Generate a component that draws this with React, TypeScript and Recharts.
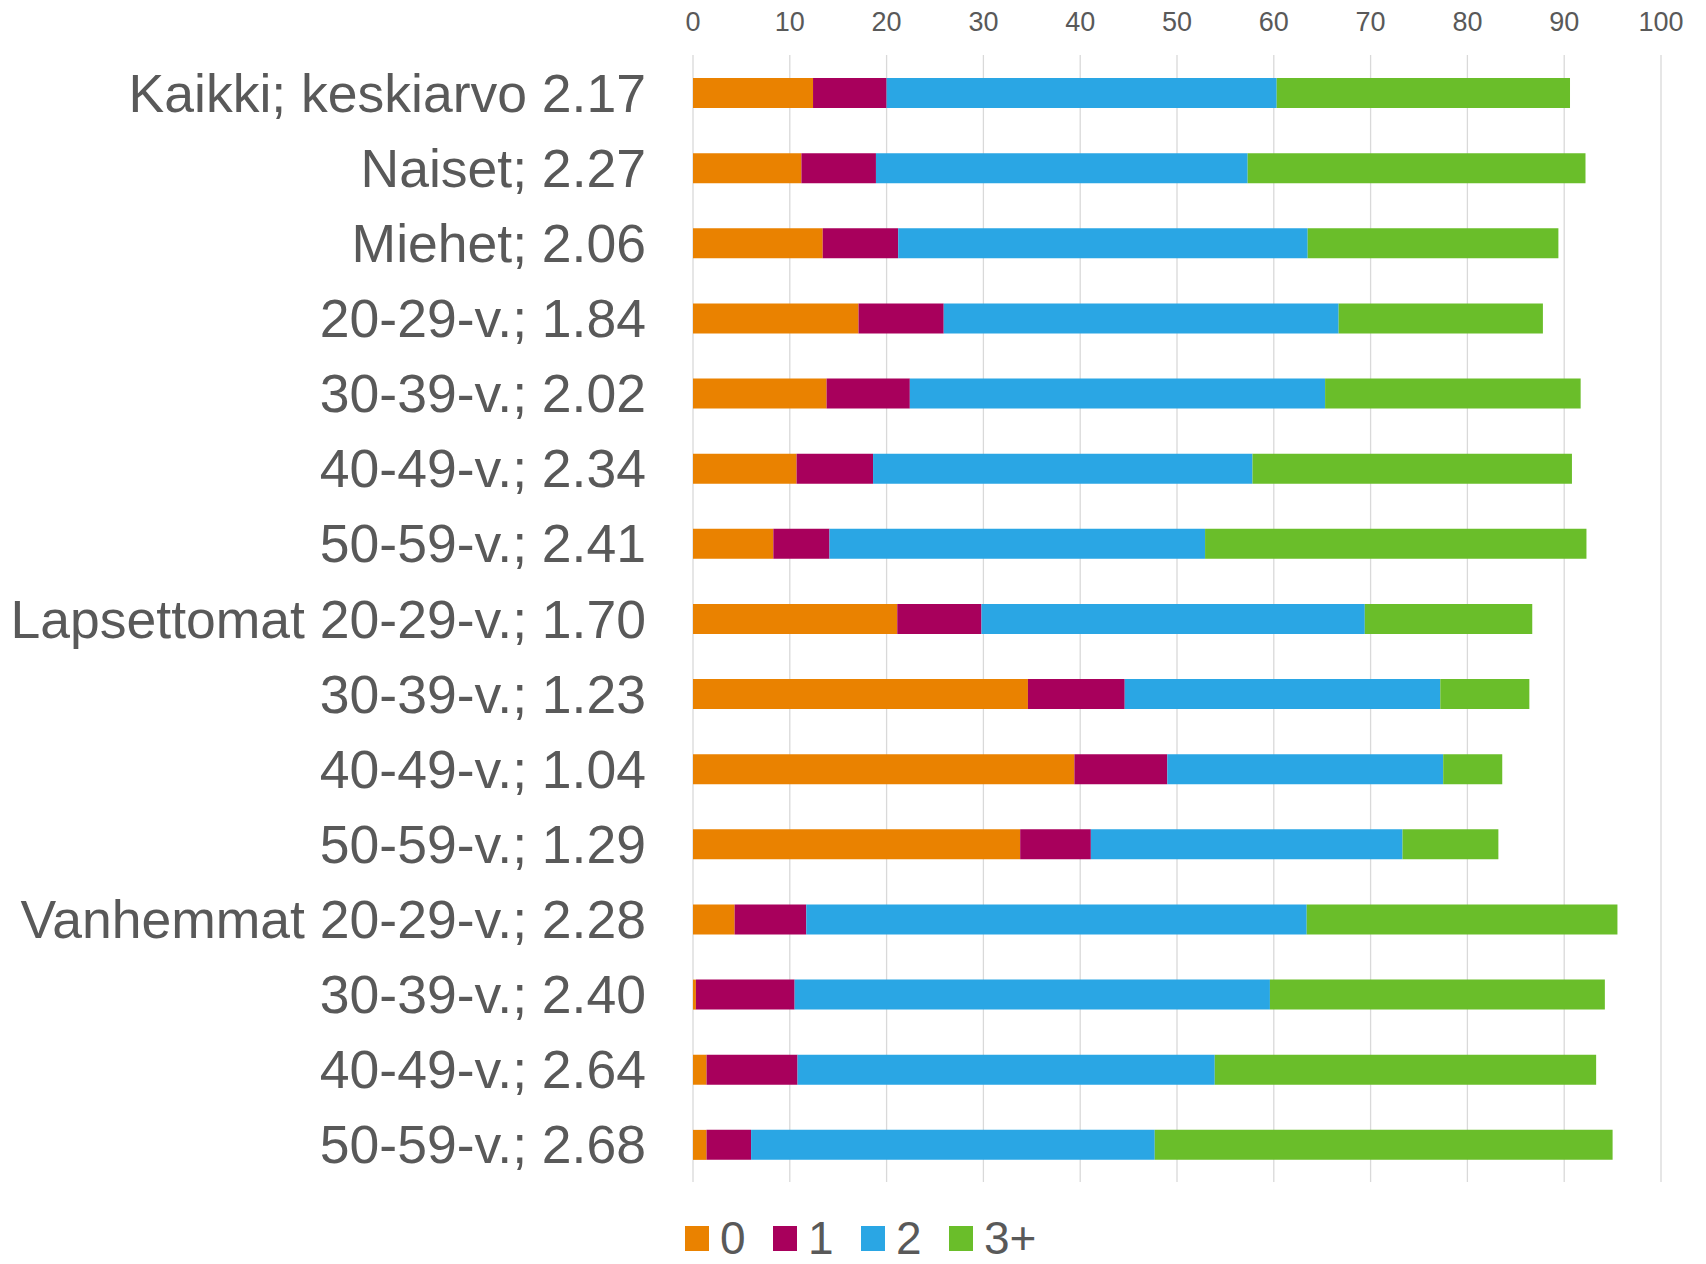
import React from 'react';
import { BarChart, Bar, XAxis, YAxis, CartesianGrid, Legend } from 'recharts';

const categories = [
  'Kaikki; keskiarvo 2.17',
  'Naiset; 2.27',
  'Miehet; 2.06',
  '20-29-v.; 1.84',
  '30-39-v.; 2.02',
  '40-49-v.; 2.34',
  '50-59-v.; 2.41',
  'Lapsettomat 20-29-v.; 1.70',
  '30-39-v.; 1.23',
  '40-49-v.; 1.04',
  '50-59-v.; 1.29',
  'Vanhemmat 20-29-v.; 2.28',
  '30-39-v.; 2.40',
  '40-49-v.; 2.64',
  '50-59-v.; 2.68',
];

const zero = [12.4, 11.2, 13.4, 17.1, 13.8, 10.7, 8.3, 21.1, 34.6, 39.4, 33.8, 4.3, 0.3, 1.4, 1.4];
const one = [7.6, 7.7, 7.8, 8.8, 8.6, 7.9, 5.8, 8.7, 10.0, 9.6, 7.3, 7.4, 10.2, 9.4, 4.6];
const two = [40.3, 38.4, 42.3, 40.8, 42.9, 39.2, 38.8, 39.6, 32.6, 28.5, 32.2, 51.7, 49.1, 43.1, 41.7];
const threePlus = [30.3, 34.9, 25.9, 21.1, 26.4, 33.0, 39.4, 17.3, 9.2, 6.1, 9.9, 32.1, 34.6, 39.4, 47.3];

const xTicks = [0, 10, 20, 30, 40, 50, 60, 70, 80, 90, 100];
const seriesNames = ['0', '1', '2', '3+'];
const seriesKeys = ['s0', 's1', 's2', 's3'];
const colors = ['#EA8200', '#A8005C', '#2AA6E4', '#6ABE2A'];

const data = categories.map((name, i) => ({
  name,
  s0: zero[i],
  s1: one[i],
  s2: two[i],
  s3: threePlus[i],
}));

const FONT = '"Liberation Sans", Arial, sans-serif';
const TEXT = '#595959';

function YTick(props: any) {
  const { x, y, payload } = props;
  return (
    <text x={x} y={y} dy={19} textAnchor="end" fontSize={53.5} fill={TEXT} fontFamily={FONT}>
      {payload.value}
    </text>
  );
}

function XTick(props: any) {
  const { x, y, payload } = props;
  return (
    <text x={x} y={y} textAnchor="middle" fontSize={27} fill={TEXT} fontFamily={FONT}>
      {payload.value}
    </text>
  );
}

function LegendContent() {
  return (
    <div
      style={{
        display: 'flex',
        alignItems: 'flex-start',
        paddingLeft: 685,
        paddingTop: 38,
        height: 82,
        boxSizing: 'border-box',
        fontFamily: FONT,
      }}
    >
      {seriesNames.map((n, i) => (
        <div
          key={n}
          style={{
            display: 'flex',
            alignItems: 'center',
            width: i < seriesNames.length - 1 ? 88 : 'auto',
            height: 36,
          }}
        >
          <div style={{ width: 24, height: 25, background: colors[i] }} />
          <span style={{ marginLeft: 11, fontSize: 46, lineHeight: '36px', color: TEXT }}>{n}</span>
        </div>
      ))}
    </div>
  );
}

export default function App() {
  return (
    <div style={{ position: 'absolute', left: 0, top: 0, background: '#fff' }}>
      <BarChart
        layout="vertical"
        width={1706}
        height={1264}
        data={data}
        margin={{ top: 0, right: 45, bottom: 0, left: 0 }}
      >
        <CartesianGrid horizontal={false} stroke="#D9D9D9" strokeWidth={1.3} />
        <XAxis
          type="number"
          orientation="top"
          domain={[0, 100]}
          ticks={xTicks}
          interval={0}
          height={55}
          axisLine={false}
          tickLine={false}
          tickSize={0}
          tickMargin={24}
          tick={<XTick />}
        />
        <YAxis
          type="category"
          dataKey="name"
          width={693}
          interval={0}
          axisLine={false}
          tickLine={false}
          tickSize={0}
          tickMargin={47}
          tick={<YTick />}
        />
        <Legend
          verticalAlign="bottom"
          content={<LegendContent />}
          wrapperStyle={{ left: 0, bottom: 0, width: 1706, height: 82 }}
        />
        {seriesKeys.map((k, i) => (
          <Bar
            key={k}
            dataKey={k}
            name={seriesNames[i]}
            stackId="a"
            fill={colors[i]}
            barSize={30}
            isAnimationActive={false}
          />
        ))}
      </BarChart>
    </div>
  );
}
